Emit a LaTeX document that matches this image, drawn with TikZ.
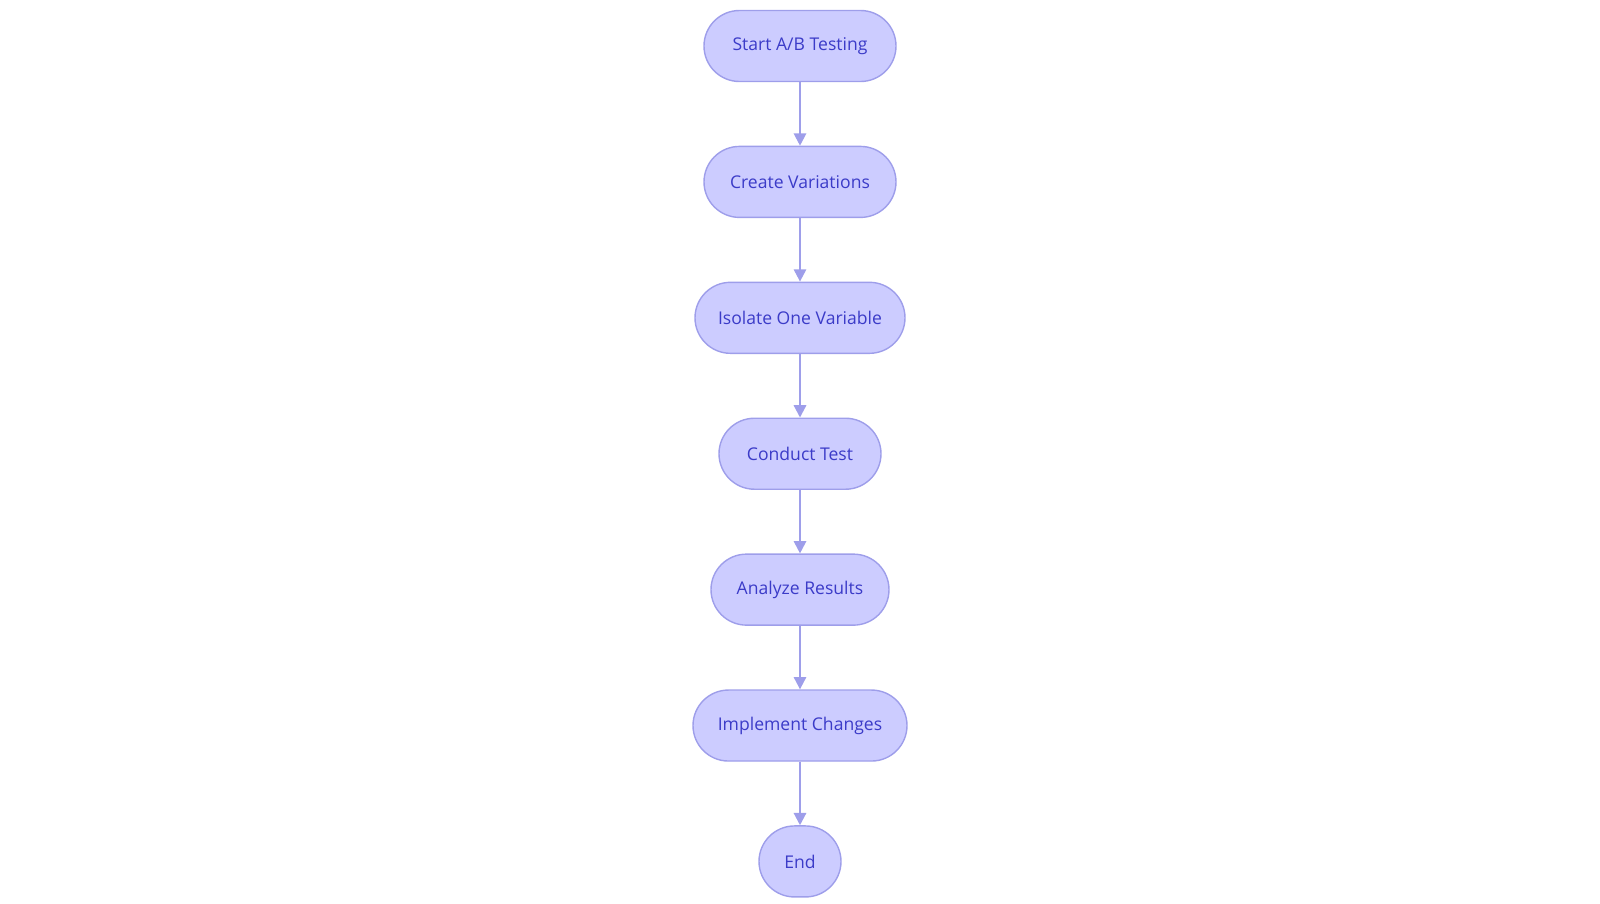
\documentclass[tikz,border=0pt]{standalone}
\usepackage{fontspec}
\setmainfont{Open Sans}
\usetikzlibrary{positioning,arrows.meta}
\definecolor{stepfill}{HTML}{CCCCFF}
\definecolor{stepline}{HTML}{9E9EEA}
\definecolor{steptext}{HTML}{3B3BC8}
\begin{document}
\begin{tikzpicture}[
    stage/.style={draw=stepline, fill=stepfill, thick, rounded corners=0.71cm,
        minimum height=1.42cm, inner sep=0pt, text=steptext,
        font=\fontsize{10}{12}\selectfont},
    flow/.style={draw=stepline, very thick, -{Triangle[length=7pt,width=7pt]}},
    node distance=1.27cm
]
    \useasboundingbox (0,0) rectangle (32,-18.06);

    \node[stage, minimum width=3.84cm] (start) at (16.0,-0.92) {Start A/B Testing};
    \node[stage, minimum width=3.84cm, below=of start] (create) {Create Variations};
    \node[stage, minimum width=4.2cm, below=of create] (isolate) {Isolate One Variable};
    \node[stage, minimum width=3.24cm, below=of isolate] (conduct) {Conduct Test};
    \node[stage, minimum width=3.56cm, below=of conduct] (analyze) {Analyze Results};
    \node[stage, minimum width=4.28cm, below=of analyze] (implement) {Implement Changes};
    \node[stage, minimum width=1.64cm, below=of implement] (end) {End};

    \foreach \a/\b in {start/create, create/isolate, isolate/conduct,
        conduct/analyze, analyze/implement, implement/end}
        \path[flow] (\a) -- (\b);
\end{tikzpicture}
\end{document}
